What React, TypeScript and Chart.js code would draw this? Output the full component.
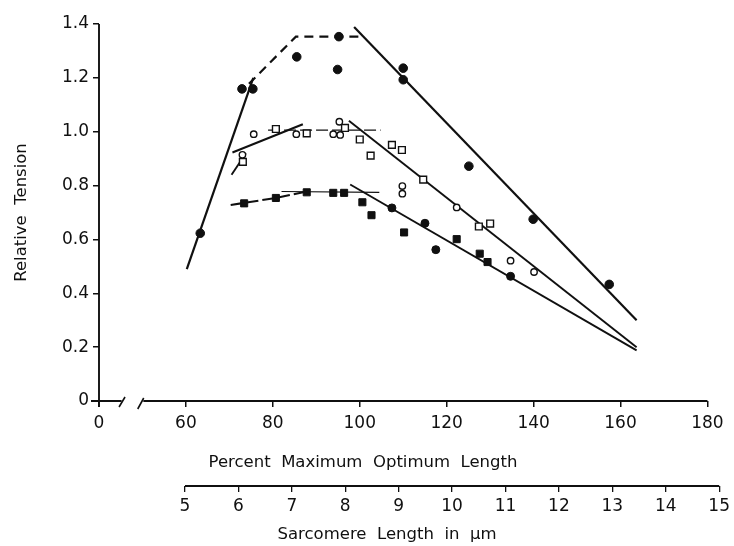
import React, { useEffect, useRef } from "react";
import { Chart, registerables } from "chart.js";

Chart.register(...registerables);

// ---------- axis ticks ----------
const xTickValues = [40, 60, 80, 100, 120, 140, 160, 180]; // 40 is shown as "0" (broken axis)
const xTickLabels = ["0", "60", "80", "100", "120", "140", "160", "180"];
const sarcTickValues = [5, 6, 7, 8, 9, 10, 11, 12, 13, 14, 15];
const yTickValues = [0, 0.2, 0.4, 0.6, 0.8, 1.0, 1.2, 1.4];

// ---------- data points ----------
const topCircleX = [63.3, 72.9, 75.4, 85.5, 95.2, 94.9, 110.0, 110.0, 125.1, 139.9, 157.4];
const topCircleY = [0.623, 1.159, 1.159, 1.278, 1.353, 1.231, 1.236, 1.193, 0.872, 0.675, 0.433];

const openCircleX = [75.6, 73.0, 85.4, 95.3, 93.9, 95.5, 109.8, 109.8, 122.3, 134.7, 140.1];
const openCircleY = [0.991, 0.914, 0.991, 1.037, 0.991, 0.988, 0.798, 0.77, 0.719, 0.521, 0.479];

const openSquareX = [73.1, 80.7, 87.8, 96.6, 100.0, 102.5, 107.4, 109.7, 114.6, 127.4, 130.0];
const openSquareY = [0.888, 1.01, 0.994, 1.014, 0.971, 0.911, 0.951, 0.932, 0.822, 0.648, 0.659];

const filledSquareX = [73.4, 80.7, 87.8, 93.9, 96.4, 100.6, 102.7, 110.2, 122.3, 127.6, 129.4];
const filledSquareY = [0.734, 0.754, 0.775, 0.773, 0.773, 0.738, 0.69, 0.626, 0.601, 0.547, 0.516];

const lowCircleX = [107.4, 115.0, 117.5, 134.7];
const lowCircleY = [0.717, 0.66, 0.562, 0.463];

// ---------- fitted lines ----------
const topRiseX = [60.2, 75.5];
const topRiseY = [0.49, 1.2];
const topPlateauX = [74.5, 85.3, 100.6];
const topPlateauY = [1.178, 1.353, 1.353];
const topFallX = [98.7, 163.7];
const topFallY = [1.389, 0.3];

const midStubX = [70.5, 73.8];
const midStubY = [0.84, 0.92];
const midRiseX = [70.7, 86.9];
const midRiseY = [0.923, 1.028];
const midPlateauX = [78.9, 104.8];
const midPlateauY = [1.006, 1.006];
const midFallX = [97.5, 163.7];
const midFallY = [1.041, 0.2];

const lowRiseX = [70.3, 80.7, 87.8];
const lowRiseY = [0.728, 0.754, 0.778];
const lowPlateauX = [82.0, 104.5];
const lowPlateauY = [0.778, 0.775];
const lowFallX = [97.8, 163.7];
const lowFallY = [0.804, 0.188];

const INK = "#101010";
const FONT = "'DejaVu Sans', sans-serif";

const pts = (xs: number[], ys: number[]) => xs.map((x, i) => ({ x, y: ys[i] }));

function pointSet(xs: number[], ys: number[], style: string, radius: number, filled: boolean) {
  return {
    data: pts(xs, ys),
    showLine: false,
    pointStyle: style,
    pointRadius: radius,
    pointBackgroundColor: filled ? INK : "#ffffff",
    pointBorderColor: INK,
    pointBorderWidth: filled ? 1 : 1.4,
    order: 0,
  };
}

function lineSet(xs: number[], ys: number[], width: number, dash: number[] = []) {
  return {
    data: pts(xs, ys),
    showLine: true,
    borderColor: INK,
    borderWidth: width,
    borderDash: dash,
    pointRadius: 0,
    tension: 0,
    order: 1,
  };
}

const axisPlugin = {
  id: "axisPlugin",
  afterDraw(chart: any) {
    const ctx = chart.ctx;
    const x = chart.scales.x;
    const x2 = chart.scales.x2;
    const y = chart.scales.y;
    ctx.save();
    ctx.strokeStyle = INK;
    ctx.lineWidth = 1.9;
    // y axis line
    const yx = x.getPixelForValue(40);
    ctx.beginPath();
    ctx.moveTo(yx, y.getPixelForValue(1.4));
    ctx.lineTo(yx, y.getPixelForValue(0) + 6);
    ctx.stroke();
    // x axis with break
    const ay = x.top;
    ctx.beginPath();
    ctx.moveTo(yx - 8, ay);
    ctx.lineTo(x.getPixelForValue(45.2), ay);
    ctx.moveTo(x.getPixelForValue(50.2), ay);
    ctx.lineTo(x.getPixelForValue(180), ay);
    ctx.stroke();
    ctx.lineWidth = 1.6;
    ctx.beginPath();
    const b1 = x.getPixelForValue(45.3);
    const b2 = x.getPixelForValue(49.6);
    ctx.moveTo(b1 - 3, ay + 6);
    ctx.lineTo(b1 + 3, ay - 4);
    ctx.moveTo(b2 - 3, ay + 8);
    ctx.lineTo(b2 + 3, ay - 3);
    ctx.stroke();
    // sarcomere axis line
    ctx.lineWidth = 1.9;
    ctx.beginPath();
    ctx.moveTo(x2.getPixelForValue(5), x2.top);
    ctx.lineTo(x2.getPixelForValue(15), x2.top);
    ctx.stroke();
    // axis titles
    ctx.fillStyle = INK;
    ctx.textAlign = "center";
    ctx.textBaseline = "middle";
    ctx.font = `16.5px ${FONT}`;
    ctx.fillText("Percent  Maximum  Optimum  Length", 363, 463);
    ctx.fillText("Sarcomere  Length  in  \u00b5m", 387, 535);
    ctx.restore();
  },
};

export default function App() {
  const ref = useRef<HTMLCanvasElement | null>(null);

  useEffect(() => {
    document.body.style.margin = "0";
    if (!ref.current) return;
    const tickFont = { family: FONT, size: 17 };
    const chart = new Chart(ref.current, {
      type: "scatter",
      data: {
        datasets: [
          pointSet(topCircleX, topCircleY, "circle", 4.3, true),
          pointSet(openCircleX, openCircleY, "circle", 3.2, false),
          pointSet(openSquareX, openSquareY, "rect", 4.8, false),
          pointSet(filledSquareX, filledSquareY, "rect", 5, true),
          pointSet(lowCircleX, lowCircleY, "circle", 4, true),
          lineSet(topRiseX, topRiseY, 2.2),
          lineSet(topPlateauX, topPlateauY, 2.2, [9, 6]),
          lineSet(topFallX, topFallY, 2.2),
          lineSet(midStubX, midStubY, 1.9),
          lineSet(midRiseX, midRiseY, 2.1),
          lineSet(midPlateauX, midPlateauY, 1.3, [12, 4]),
          lineSet(midFallX, midFallY, 1.9),
          lineSet(lowRiseX, lowRiseY, 2.1, [12, 4]),
          lineSet(lowPlateauX, lowPlateauY, 1.2),
          lineSet(lowFallX, lowFallY, 1.9),
        ] as any,
      },
      options: {
        animation: false,
        responsive: false,
        devicePixelRatio: 1,
        layout: { padding: { top: 24, right: 9, left: 0, bottom: 0 } },
        plugins: { legend: { display: false }, tooltip: { enabled: false } },
        scales: {
          x: {
            type: "linear",
            position: "bottom",
            min: 40,
            max: 182.7,
            afterBuildTicks: (s: any) => {
              s.ticks = xTickValues.map((v) => ({ value: v }));
            },
            afterFit: (s: any) => {
              s.height = 85;
            },
            ticks: {
              autoSkip: false,
              maxRotation: 0,
              color: INK,
              font: tickFont,
              padding: 6,
              callback: (v: any) => xTickLabels[xTickValues.indexOf(Number(v))] ?? "",
            },
            grid: { drawOnChartArea: false, drawTicks: true, tickLength: 6, color: INK, lineWidth: 1.5 },
            border: { display: false },
          },
          x2: {
            type: "linear",
            position: "bottom",
            min: 3.39,
            max: 15,
            afterBuildTicks: (s: any) => {
              s.ticks = sarcTickValues.map((v) => ({ value: v }));
            },
            afterFit: (s: any) => {
              s.height = 60;
            },
            ticks: {
              autoSkip: false,
              maxRotation: 0,
              color: INK,
              font: tickFont,
              padding: 4,
              callback: (v: any) => String(v),
            },
            grid: { drawOnChartArea: false, drawTicks: true, tickLength: 6, color: INK, lineWidth: 1.3 },
            border: { display: false },
          },
          y: {
            type: "linear",
            min: 0,
            max: 1.4,
            afterBuildTicks: (s: any) => {
              s.ticks = yTickValues.map((v) => ({ value: v }));
            },
            afterFit: (s: any) => {
              s.width = 99;
            },
            ticks: {
              color: INK,
              font: tickFont,
              padding: 4,
              callback: (v: any) => (Number(v) === 0 ? "0" : Number(v).toFixed(1)),
            },
            grid: { drawOnChartArea: false, drawTicks: true, tickLength: 6, color: INK, lineWidth: 1.5 },
            border: { display: false },
            title: {
              display: true,
              text: "Relative  Tension",
              color: INK,
              font: { family: FONT, size: 16.5 },
              padding: { top: 12, bottom: 0 },
            },
          },
        },
      },
      plugins: [axisPlugin],
    });
    return () => chart.destroy();
  }, []);

  return (
    <div style={{ width: 734, height: 546, background: "#fff" }}>
      <canvas ref={ref} width={734} height={546} />
    </div>
  );
}
